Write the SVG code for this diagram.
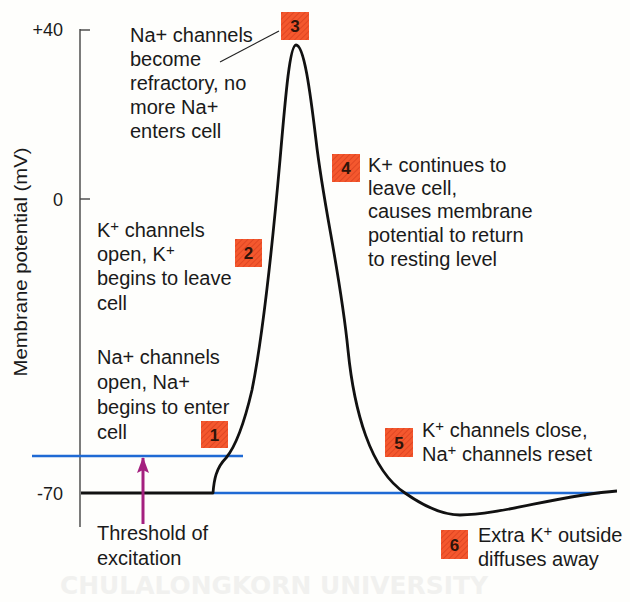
<svg xmlns="http://www.w3.org/2000/svg" width="630" height="602" viewBox="0 0 630 602">
  <defs>
    <pattern id="hatch" width="4" height="4" patternUnits="userSpaceOnUse" patternTransform="rotate(45)">
      <rect width="4" height="4" fill="#f4582e"/>
      <line x1="0" y1="0" x2="0" y2="4" stroke="#d63c1c" stroke-width="1.3"/>
    </pattern>
    <marker id="arrowhead" viewBox="0 0 16 12" refX="15" refY="6" markerWidth="16" markerHeight="12" markerUnits="userSpaceOnUse" orient="auto">
      <path d="M0,0 L16,6 L0,12 L3,6 Z" fill="#a4207f"/>
    </marker>
  </defs>
  <style>
    .lbl { font-family: "Liberation Sans", Arial, sans-serif; font-size: 20px; fill: #1a1a1a; }
    .axis { font-family: "Liberation Sans", Arial, sans-serif; font-size: 18px; fill: #1a1a1a; }
    .sup { font-size: 15px; }
    .badge rect { fill: url(#hatch); }
    .badge text { font-family: "Liberation Sans", Arial, sans-serif; font-size: 17px; font-weight: bold; fill: #2e140a; text-anchor: middle; }
    .blue { stroke: #1f6ad4; stroke-width: 2.6; fill: none; }
    .trace { stroke: #111; stroke-width: 2.8; fill: none; stroke-linejoin: round; }
  </style>

  <rect width="630" height="602" fill="#fefefc"/>

  <!-- faint watermark -->
  <text x="60" y="594" font-family="'DejaVu Sans', sans-serif" font-weight="bold" font-size="24" fill="#f1f1ef" textLength="428" lengthAdjust="spacingAndGlyphs">CHULALONGKORN UNIVERSITY</text>

  <!-- axis -->
  <g id="axis">
    <line x1="80" y1="29" x2="80" y2="527" stroke="#444" stroke-width="1.4"/>
    <line x1="80" y1="30" x2="90" y2="30" stroke="#444" stroke-width="1.4"/>
    <line x1="80" y1="199" x2="90" y2="199" stroke="#444" stroke-width="1.4"/>
    <text class="axis" x="63" y="36" text-anchor="end">+40</text>
    <text class="axis" x="63" y="206" text-anchor="end">0</text>
    <text class="axis" x="63" y="500" text-anchor="end">-70</text>
    <text class="axis" transform="translate(27,262) rotate(-90)" text-anchor="middle" textLength="229" lengthAdjust="spacingAndGlyphs">Membrane potential (mV)</text>
  </g>

  <!-- reference levels -->
  <g id="levels">
    <line class="blue" x1="32" y1="456" x2="243" y2="456"/>
    <line class="blue" x1="213" y1="493" x2="600" y2="493"/>
  </g>

  <!-- membrane potential trace -->
  <g id="connectors">
    <path class="trace" d="M81 493 L213 493 C214 480 216 468 226 458 C236 446 245 420 252 390 C262 340 272 250 280 160 C286 90 290 45 296 45 C304 45 310 90 316 140 C324 210 340 270 348 350 C354 410 370 470 405 493 C425 507 445 515 460 515 C500 515 560 495 617 491"/>
    <line x1="220" y1="62" x2="279" y2="31" stroke="#222" stroke-width="1.2"/>
    <line x1="143" y1="524" x2="143" y2="458" stroke="#a4207f" stroke-width="3" marker-end="url(#arrowhead)"/>
  </g>

  <!-- step 1 -->
  <g id="step1">
    <g class="badge"><rect x="201" y="421" width="27" height="27"/><text x="214.5" y="441">1</text></g>
    <text class="lbl" x="97" y="364">Na+ channels</text>
    <text class="lbl" x="97" y="389">open, Na+</text>
    <text class="lbl" x="97" y="414">begins to enter</text>
    <text class="lbl" x="97" y="439">cell</text>
  </g>

  <!-- step 2 -->
  <g id="step2">
    <g class="badge"><rect x="235" y="239" width="27" height="28"/><text x="248.5" y="259">2</text></g>
    <text class="lbl" x="97" y="237">K<tspan class="sup" dy="-6">+</tspan><tspan dy="6"> channels</tspan></text>
    <text class="lbl" x="97" y="261">open, K<tspan class="sup" dy="-6">+</tspan></text>
    <text class="lbl" x="97" y="285">begins to leave</text>
    <text class="lbl" x="97" y="310">cell</text>
  </g>

  <!-- step 3 -->
  <g id="step3">
    <g class="badge"><rect x="281" y="12" width="28" height="28"/><text x="295" y="32">3</text></g>
    <text class="lbl" x="130" y="42">Na+ channels</text>
    <text class="lbl" x="130" y="66">become</text>
    <text class="lbl" x="130" y="90">refractory, no</text>
    <text class="lbl" x="130" y="114">more Na+</text>
    <text class="lbl" x="130" y="138">enters cell</text>
  </g>

  <!-- step 4 -->
  <g id="step4">
    <g class="badge"><rect x="332" y="154" width="28" height="28"/><text x="346" y="174">4</text></g>
    <text class="lbl" x="368" y="172">K+ continues to</text>
    <text class="lbl" x="368" y="195">leave cell,</text>
    <text class="lbl" x="368" y="218">causes membrane</text>
    <text class="lbl" x="368" y="242">potential to return</text>
    <text class="lbl" x="368" y="266">to resting level</text>
  </g>

  <!-- step 5 -->
  <g id="step5">
    <g class="badge"><rect x="385" y="428" width="28" height="29"/><text x="399" y="449">5</text></g>
    <text class="lbl" x="422" y="437">K<tspan class="sup" dy="-6">+</tspan><tspan dy="6"> channels close,</tspan></text>
    <text class="lbl" x="422" y="461">Na<tspan class="sup" dy="-6">+</tspan><tspan dy="6"> channels reset</tspan></text>
  </g>

  <!-- step 6 -->
  <g id="step6">
    <g class="badge"><rect x="441" y="530" width="27" height="29"/><text x="454.5" y="551">6</text></g>
    <text class="lbl" x="478" y="542">Extra K<tspan class="sup" dy="-6">+</tspan><tspan dy="6"> outside</tspan></text>
    <text class="lbl" x="478" y="566">diffuses away</text>
  </g>

  <!-- threshold label -->
  <g id="threshold">
    <text class="lbl" x="97" y="540">Threshold of</text>
    <text class="lbl" x="97" y="565">excitation</text>
  </g>
</svg>
